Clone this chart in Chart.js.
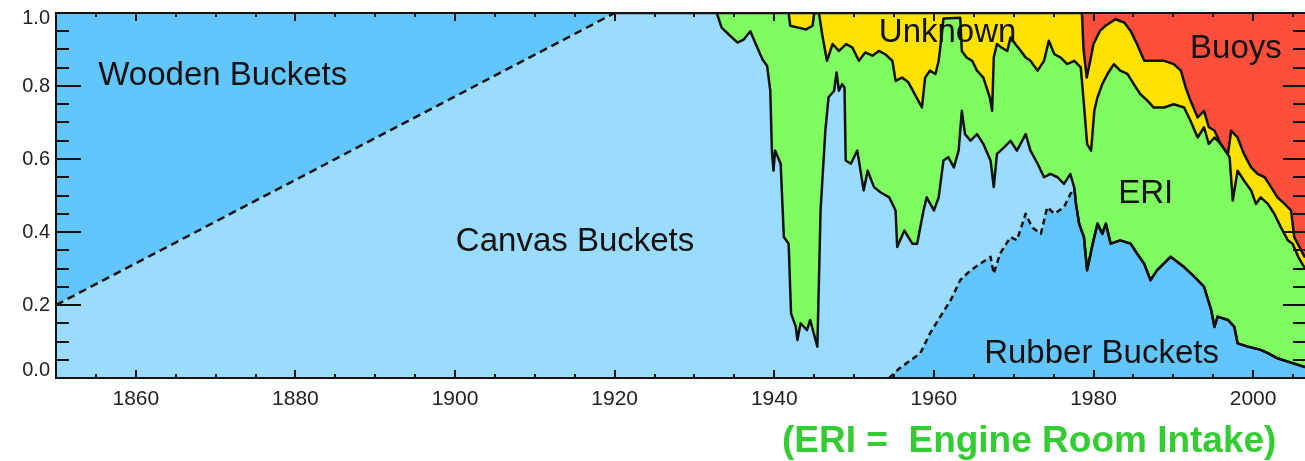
<!DOCTYPE html>
<html>
<head>
<meta charset="utf-8">
<title>SST measurement types</title>
<script src="https://cdn.jsdelivr.net/npm/chart.js@4.4.1/dist/chart.umd.min.js"></script>
<style>
  html, body { margin: 0; padding: 0; background: #fff; overflow: hidden; }
  canvas { display: block; }
</style>
</head>
<body>
<canvas id="typesChart" width="1305" height="461"></canvas>
<script>
const rubberYears = [1850, 1954.4, 1955.6, 1957.1, 1958.3, 1959.5, 1960.8, 1962.1, 1963.3, 1964.6,
    1965.8, 1967.1, 1967.5, 1968.3, 1969.6, 1970.4, 1971.5, 1972.3, 1973.4, 1974.2,
    1975.1, 1976.3, 1977.1, 1977.6, 1977.8, 1978.2, 1978.8, 1979.2, 1979.9, 1980.5,
    1981.1, 1981.55, 1982.15, 1983.35, 1984.65, 1985.45, 1986.35, 1987.15, 1987.95, 1989.65,
    1991.35, 1992.65, 1993.85, 1994.75, 1995.15, 1995.55, 1996.85, 1997.65, 1998.05, 1999.35,
    2000.95, 2001.85, 2003.05, 2004.35, 2006.5];
const rubberTop = [0, 0, 0.025, 0.049, 0.068, 0.122, 0.168, 0.213, 0.268, 0.295,
    0.313, 0.332, 0.286, 0.341, 0.386, 0.377, 0.45, 0.413, 0.395, 0.468,
    0.45, 0.468, 0.504, 0.52, 0.477, 0.423, 0.386, 0.295, 0.368, 0.423,
    0.395, 0.423, 0.368, 0.377, 0.368, 0.341, 0.313, 0.268, 0.295, 0.332,
    0.304, 0.277, 0.25, 0.186, 0.14, 0.168, 0.159, 0.14, 0.095, 0.086,
    0.077, 0.068, 0.054, 0.045, 0.03];
const rubberMergeYear = 1977.6; // canvas buckets gone after this

const canvasYears = [1850, 1920, 1932.8, 1933.4, 1934.5, 1935.4, 1936.2, 1937.0, 1937.6, 1938.5,
    1939.1, 1939.5, 1939.7, 1939.9, 1940.1, 1940.8, 1941.2, 1941.8, 1942.1, 1942.7,
    1942.9, 1943.3, 1944.1, 1944.5, 1945.4, 1945.8, 1946.4, 1946.8, 1947.5, 1947.8,
    1948.1, 1948.5, 1948.8, 1948.95, 1949.6, 1950.4, 1951.2, 1951.7, 1952.5, 1953.3,
    1954.4, 1955.2, 1955.4, 1956.3, 1957.3, 1957.9, 1958.7, 1959.1, 1960.0, 1960.6,
    1961.2, 1961.8, 1962.5, 1963.1, 1963.5, 1963.9, 1964.6, 1965.4, 1966.2, 1967.1,
    1967.5, 1967.9, 1968.8, 1969.6, 1970.4, 1971.5, 1972.1, 1973.0, 1973.8, 1974.6,
    1975.5, 1976.3, 1977.1];
const canvasTop = [0.2, 1.0, 1.0, 0.96, 0.937, 0.919, 0.928, 0.95, 0.919, 0.874,
    0.855, 0.787, 0.623, 0.568, 0.623, 0.587, 0.386, 0.368, 0.177, 0.14,
    0.104, 0.15, 0.131, 0.159, 0.086, 0.459, 0.678, 0.769, 0.787, 0.837,
    0.787, 0.805, 0.796, 0.596, 0.587, 0.623, 0.514, 0.568, 0.523, 0.509,
    0.495, 0.459, 0.359, 0.404, 0.368, 0.368, 0.459, 0.495, 0.459, 0.495,
    0.596, 0.605, 0.577, 0.623, 0.732, 0.668, 0.65, 0.668, 0.641, 0.596,
    0.523, 0.614, 0.632, 0.65, 0.623, 0.668, 0.623, 0.587, 0.55, 0.559,
    0.55, 0.532, 0.559];

const woodenYears = [1850, 1920];
const woodenTop = [1.0, 1.0];

const eriYears = [1932.8, 1941.8, 1942.0, 1943.0, 1944.0, 1944.8, 1945.0, 1945.6, 1946.0, 1946.6,
    1947.3, 1948.1, 1949.0, 1949.8, 1950.6, 1951.4, 1952.3, 1953.1, 1953.9, 1954.8,
    1955.2, 1956.0, 1956.8, 1957.6, 1958.5, 1958.9, 1959.5, 1960.2, 1960.6, 1961.0,
    1961.2, 1963.3, 1963.5, 1964.1, 1964.8, 1965.4, 1966.2, 1967.0, 1967.3, 1967.5,
    1967.9, 1968.5, 1969.2, 1969.6, 1970.2, 1970.9, 1971.5, 1972.1, 1973.0, 1973.8,
    1974.4, 1975.1, 1975.9, 1976.7, 1977.6, 1978.4, 1978.8, 1979.2, 1979.7, 1980.1,
    1980.5, 1981.1, 1981.75, 1982.55, 1983.35, 1984.25, 1985.05, 1985.85, 1986.75, 1987.55,
    1988.85, 1990.05, 1991.35, 1992.15, 1993.05, 1993.85, 1994.45, 1995.15, 1995.95, 1997.05,
    1997.45, 1998.05, 1998.85, 1999.75, 2000.35, 2000.95, 2001.85, 2002.65, 2003.45, 2004.35,
    2004.95, 2005.65, 2006.5];
const eriTop = [1.0, 1.0, 0.965, 0.96, 0.955, 0.965, 1.0, 1.0, 0.942, 0.869,
    0.915, 0.896, 0.915, 0.905, 0.869, 0.892, 0.883, 0.896, 0.887, 0.869,
    0.814, 0.823, 0.81, 0.778, 0.741, 0.823, 0.842, 0.833, 0.869, 0.942,
    0.985, 0.987, 0.896, 0.878, 0.869, 0.842, 0.823, 0.769, 0.732, 0.878,
    0.915, 0.905, 0.896, 0.933, 0.915, 0.896, 0.878, 0.869, 0.842, 0.869,
    0.924, 0.887, 0.878, 0.86, 0.869, 0.851, 0.75, 0.641, 0.623, 0.732,
    0.769, 0.805, 0.833, 0.86, 0.842, 0.833, 0.805, 0.778, 0.76, 0.741,
    0.741, 0.75, 0.741, 0.705, 0.659, 0.687, 0.641, 0.659, 0.641, 0.605,
    0.486, 0.568, 0.541, 0.514, 0.477, 0.495, 0.477, 0.45, 0.414, 0.377,
    0.368, 0.332, 0.30];

const unknownYears = [1941.8, 1978.55, 1978.75, 1979.15, 1979.6, 1980.0, 1980.8, 1981.5, 1982.75, 1983.85,
    1984.65, 1985.45, 1986.35, 1987.55, 1988.85, 1990.05, 1990.95, 1991.55, 1992.15, 1993.05,
    1993.85, 1994.45, 1995.15, 1995.95, 1996.85, 1997.25, 1998.05, 1998.85, 1999.75, 2000.55,
    2001.45, 2002.25, 2003.05, 2003.95, 2004.75, 2005.15, 2006.5];
const unknownTop = [1.0, 1.0, 0.9, 0.823, 0.87, 0.915, 0.951, 0.965, 0.983, 0.974,
    0.951, 0.915, 0.869, 0.869, 0.869, 0.86, 0.842, 0.796, 0.76, 0.714,
    0.732, 0.687, 0.678, 0.641, 0.614, 0.678, 0.659, 0.614, 0.577, 0.559,
    0.55, 0.523, 0.495, 0.477, 0.459, 0.386, 0.33];

const buoyYears = [1978.55, 2006.5];
const buoyTop = [1.0, 1.0];

const xTickLabels = [1860, 1880, 1900, 1920, 1940, 1960, 1980, 2000];
const yTickLabels = [0.0, 0.2, 0.4, 0.6, 0.8, 1.0];

const regionLabels = [
    { text: 'Wooden Buckets', year: 1855.3, frac: 0.803 },
    { text: 'Canvas Buckets', year: 1900.1, frac: 0.348 },
    { text: 'Unknown', year: 1953.1, frac: 0.92 },
    { text: 'ERI', year: 1983.1, frac: 0.479 },
    { text: 'Buoys', year: 1992.1, frac: 0.877 },
    { text: 'Rubber Buckets', year: 1966.3, frac: 0.041 }
];

const FONT = '"Liberation Sans", Arial, Helvetica, sans-serif';
const EDGE = '#111';
const LW = 2.5;

function pts(xs, ys) {
    return xs.map((x, i) => ({ x: x, y: ys[i] }));
}

const rubberPts = pts(rubberYears, rubberTop);
// after the rubber line meets it, the canvas edge is the rubber edge
const canvasPts = pts(canvasYears, canvasTop)
    .concat(rubberPts.filter(p => p.x >= rubberMergeYear));

// inward ticks, frame, y labels (kept inside the frame like the original), region names, footnote
const frameTicks = {
    id: 'frameTicks',
    afterDatasetsDraw(chart) {
        const { ctx, chartArea: a, scales: { x, y } } = chart;
        ctx.save();

        ctx.fillStyle = '#111';
        ctx.font = '33px ' + FONT;
        ctx.textAlign = 'left';
        ctx.textBaseline = 'alphabetic';
        regionLabels.forEach(l => {
            ctx.fillText(l.text, x.getPixelForValue(l.year), y.getPixelForValue(l.frac));
        });

        ctx.strokeStyle = '#111';
        ctx.lineWidth = 2;
        ctx.beginPath();
        for (let i = 0; i <= 20; i++) {
            const py = Math.round(y.getPixelForValue(i * 0.05));
            const major = i % 4 === 0;
            ctx.moveTo(a.left, py);
            ctx.lineTo(a.left + (major ? 25 : 13), py);
            ctx.moveTo(a.right, py);
            ctx.lineTo(a.right - (major ? 22 : 12), py);
        }
        for (let yr = 1855; yr <= 2005; yr += 5) {
            const px = Math.round(x.getPixelForValue(yr));
            const major = yr % 20 === 0;
            ctx.moveTo(px, a.bottom);
            ctx.lineTo(px, a.bottom - (major ? 8 : 4));
            ctx.moveTo(px, a.top);
            ctx.lineTo(px, a.top + (major ? 8 : 4));
        }
        ctx.stroke();

        ctx.beginPath();
        ctx.moveTo(a.right + 1, a.top);
        ctx.lineTo(a.left, a.top);
        ctx.lineTo(a.left, a.bottom);
        ctx.lineTo(a.right + 1, a.bottom);
        ctx.stroke();

        ctx.fillStyle = '#222';
        ctx.font = '20px ' + FONT;
        ctx.textAlign = 'right';
        ctx.textBaseline = 'middle';
        yTickLabels.forEach(v => {
            const py = Math.min(Math.max(y.getPixelForValue(v), a.top + 5), a.bottom - 8);
            ctx.fillText(v.toFixed(1), a.left - 6, py);
        });

        ctx.fillStyle = '#33cc33';
        ctx.font = 'bold 37px ' + FONT;
        ctx.textAlign = 'left';
        ctx.textBaseline = 'alphabetic';
        ctx.fillText('(ERI =  Engine Room Intake)', 782, 452);
        ctx.restore();
    }
};

const ctx = document.getElementById('typesChart').getContext('2d');
new Chart(ctx, {
    type: 'line',
    data: {
        datasets: [
            // 0..5: filled layers, bottom to top
            { label: 'Rubber Buckets', data: rubberPts, backgroundColor: '#62c6fc', borderWidth: 0, fill: 'origin' },
            { label: 'Canvas Buckets', data: canvasPts, backgroundColor: '#9adcfe', borderWidth: 0, fill: 0 },
            { label: 'Wooden Buckets', data: pts(woodenYears, woodenTop), backgroundColor: '#62c6fc', borderWidth: 0, fill: 1 },
            { label: 'ERI', data: pts(eriYears, eriTop), backgroundColor: '#7ffc5f', borderColor: EDGE, borderWidth: LW, fill: 1 },
            { label: 'Unknown', data: pts(unknownYears, unknownTop), backgroundColor: '#fde200', borderColor: EDGE, borderWidth: LW, fill: 3 },
            { label: 'Buoys', data: pts(buoyYears, buoyTop), backgroundColor: '#fd4f3c', borderWidth: 0, fill: 4 },
            // 6..7: edges only, dashed where the original is dashed
            {
                label: 'rubber edge',
                data: rubberPts,
                borderColor: EDGE,
                borderWidth: LW,
                fill: false,
                segment: {
                    borderDash: c => c.p1.parsed.x <= rubberMergeYear ? [6, 4] : undefined,
                    borderColor: c => (c.p0.parsed.y === 0 && c.p1.parsed.y === 0) ? 'rgba(0,0,0,0)' : undefined
                }
            },
            {
                label: 'canvas edge',
                data: canvasPts,
                borderColor: EDGE,
                borderWidth: LW,
                fill: false,
                segment: {
                    borderDash: c => c.p1.parsed.x <= 1920 ? [8, 5] : undefined
                }
            }
        ]
    },
    options: {
        responsive: false,
        animation: false,
        devicePixelRatio: 1,
        elements: {
            point: { radius: 0, hoverRadius: 0 },
            line: { tension: 0, borderJoinStyle: 'round' }
        },
        layout: { padding: { top: 13, right: 0, left: 0, bottom: 0 } },
        plugins: {
            legend: { display: false },
            tooltip: { enabled: false },
            filler: { drawTime: 'beforeDatasetsDraw' }
        },
        scales: {
            x: {
                type: 'linear',
                min: 1850,
                max: 2006.5,
                grid: { display: false, drawTicks: false },
                border: { display: false },
                afterBuildTicks: s => { s.ticks = xTickLabels.map(v => ({ value: v })); },
                afterFit: s => { s.height = 83; },
                ticks: {
                    padding: 9,
                    color: '#222',
                    font: { family: FONT, size: 21 },
                    maxRotation: 0,
                    callback: v => String(v)
                }
            },
            y: {
                min: 0,
                max: 1,
                grid: { display: false, drawTicks: false },
                border: { display: false },
                afterBuildTicks: s => { s.ticks = yTickLabels.map(v => ({ value: v })); },
                afterFit: s => { s.width = 56; },
                ticks: { display: false }
            }
        }
    },
    plugins: [frameTicks]
});
</script>
</body>
</html>
